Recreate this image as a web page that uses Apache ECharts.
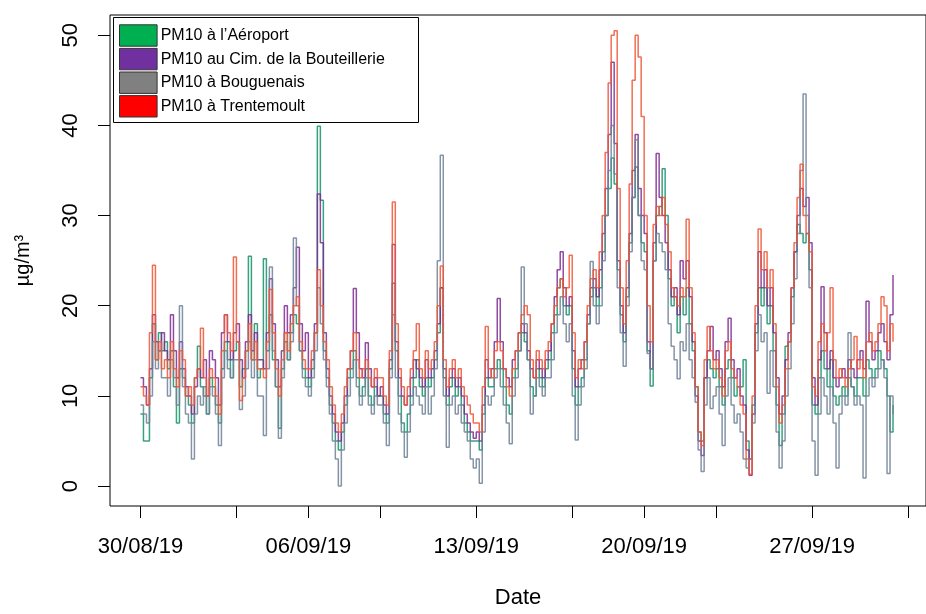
<!DOCTYPE html>
<html><head><meta charset="utf-8">
<script src="https://cdn.jsdelivr.net/npm/echarts@6/dist/echarts.min.js"></script>
<style>html,body{margin:0;padding:0;background:#fff}#c{width:926px;height:614px}</style>
</head><body><div id="c"></div>
<script>
// sampling: one value every 3 hours, starting 30/08/19 00:00
const stepHours = 3;
const xTickDays = [0, 4, 7, 10, 14, 18, 21, 24, 28, 32];
const xLabelDays = [0, 7, 14, 21, 28];
const xTickLabels = ['30/08/19', '06/09/19', '13/09/19', '20/09/19', '27/09/19'];
const yTicks = [0, 10, 20, 30, 40, 50];
const seriesNames = ['PM10 à l’Aéroport', 'PM10 au Cim. de la Bouteillerie', 'PM10 à Bouguenais', 'PM10 à Trentemoult'];
const legendColors = ['#00B050', '#7030A0', '#808080', '#FF0000'];
const lineColors = ['#15906a', '#7e2a90', '#6f8196', '#ee5535'];

const aeroport = [
 8,5,5,12,18,14,17,15, 16,13,15,11,7,13,12,10, 9,7,12,15.5,11,10,8,12, 11,9,7,13,16,14,12,15,
 16,11,13,15,25.5,14,18,12, 13,25.2,15,19,14,11,6.4,13, 16,14,17,19,18,15,13,12, 11,13,17,39.9,31.7,15,12,9,
 7,5,4,6,9,12,13,15, 12,10,11,13,10,9,11,10, 10,8,7,13,22.5,15,10,7, 6,8,10,12,14,11,10,12,
 11,12,14,17,22,12,9,11, 12,10,11,9,7,6,5,5, 5,4,8,12,11,11,13,14, 13,11,9,8,12,13,15,17,
 16,14,11,10,13,12,11,13, 14,17,19,22,23,20,19,20, 13,9,11,12,14,18,21,22, 20,22,26,30,33,36.4,33.5,24,
 19,16,21,27,32,35.4,30,27, 26,15,11.1,25,30,31,35.2,30, 23,20,21,17,21,19,22,18, 15,11,6,5,12,14,13,12,
 13,11,9,13,14,12,10,11, 11,14,5,3,9,17,22,20, 22,18,20,15,9,4.5,8,15.5, 16,21,26,29,28,27,28,24,
 9,8,12,15,13,11,14,10, 9,10,11,10,12,11,10,12, 12,10,14,13,12,13,15,14, 13,10,6,9
];
const bouteillerie = [
 12,11,9,13,19,16,15,17, 15,14,19,15,12,16,13,11, 10,8,11,13,12,14,10,15, 14,12,9,17,19,16,14,17,
 18,14,12,16,19,15,17,14, 14,13,17,23,18,14,11,15, 20,17,19,22,26.5,18,15,17, 12,14,18,32.4,27,17,13,10,
 8,6,5,7,10,13,15,21.9, 17,13,12,15.9,13,11,12,10, 11,9,8,14,26.8,16,12,10, 9,10,12,14,13,12,11,14,
 12,13,15,18,22,13,10,12, 13,11,12,10,8,7,6,5.3, 6,5,9,14,12,13,16,20.8, 16,13,12,11,14,15,17,18,
 17,15,13,12,14,13,12,14, 15,18,21,24,26,22,20,21, 15,11,13,14,16,19,22,23, 21,24,28,33,39,47,38,25,
 20,17,22,28,35,39,33,30, 28,16,13,27,36.9,32,30,27, 24,21,22,19,25,23,25,21, 16,10,5,3.4,12,15,17.7,14,
 15,13,11,16,18.6,14,12,13, 10,9,4,1.2,8,18,26,22, 24,20,22,17,12,8,10,14, 17,22,26,30,33,31,32,27,
 12,9,14,22.1,17,13,15,12, 11,12,13,12,14,13,12,14, 15,13,20.5,16,14,15,17,18, 16,14,19,23.4
];
const bouguenais = [
 9,8,7,10,16,13,15,12, 12,10,14,12,9,20,11,8, 7,3,8,10,9,11,8,11, 10,8,4.5,12,15,13,12,14,
 14,8.5,10,13,16,12,14,10, 10,5.6,13,24.3,15,11,5.3,12, 17,14,16,27.5,20,15,12,11, 10,12,15,22,18,14,11,8,
 5,3,0,4,7,10,12,14, 11,9,10,12,9,8,10,9, 9,7,4.5,12,19,12,8,6, 3.2,6,9,11,10,9,8,11,
 8,10,13,25,36.7,10,4.3,9, 10,8,9,7,6,5,3,2, 3,0.3,6,10,9,10,12,13, 11,9,7,4.7,10,12,15,24.3,
 18,14,8,10,12,11,10,12, 12,14,17,19,21,18,16,18, 10,5.1,9,11,13,18,24.9,20, 18,20,25,30,35,40,34.6,22,
 17,13.3,20,26,32,38.4,30,25, 24,14.7,13,25,28,27,26,24, 18,15.5,14,11.9,16,15,18,14, 12,9.3,4,1.6,9,12,8.6,10,
 11,8,4.5,10,12,9,7,8, 6,3,2,3,7,15,19,16, 17,10.3,15,11,6,2,5,10, 13,18,23,28,35,43.5,30,22,
 5,1.2,8,12,10,8,11,7, 2,8,10,9,17,11,9,10, 9,0.9,10,12,11,12,13,14, 12,1.4,10,8
];
const trentemoult = [
 11,10,9,17,24.5,14,16,13, 14,12,16,13,11,15,14,10, 11,9,12,13,17.5,12,10,13, 12,10,8,15,19,17,15,25.4,
 16,9.5,12,15,18,14,16,13, 13,12,16,21.8,17,13,10,14, 17,15,18,20,21,16,14,13, 13,15,17,24,20,16,14,11,
 9,7,6,8,11,13,15,17, 14,12,13,14,12,11,13,12, 12,10,9,15,31.5,18,13,11, 9,11,13,15,18,13,12,15,
 13,14,16,20,24.4,14,11,13, 14,12,13,11,10,9,8,7, 7,6,11,17.7,13,12,15,16, 15,13,11,10,13,15,17,19,
 20,19,14,12,15,14,13,15, 16,18,20,22,23,21,22,25.6, 17,12,14,13,16,20,23,24, 22,26,30,37,44.7,50,50.5,33,
 22,18,25,33.5,45,50,47.6,41, 30,20,16,29,31,30,32,29, 26,22,21,20,22,21,29.6,22, 17,11,6,4.5,14,17.7,15,13,
 14,12,10,15,16,13,12,11, 9,8,3,1.3,10,20,28.5,24, 26,22,24,18,11,7,9,13, 16,22,27,32,35.7,30,28,26,
 11,10,16,18,15,17,22,14, 12,13,12,11,13,14,16.6,13, 14,12,16,17,15,16,18,21, 20,15,18,16
];
const allValues = [aeroport, bouteillerie, bouguenais, trentemoult];

const FONT = 'Liberation Sans, Arial, sans-serif';
const chart = echarts.init(document.getElementById('c'), null, {renderer: 'canvas'});

const series = allValues.map((vals, k) => ({
  name: seriesNames[k],
  type: 'line',
  step: 'end',
  symbol: 'none',
  showSymbol: false,
  silent: true,
  animation: false,
  z: 2 + k,
  lineStyle: {color: lineColors[k], width: 1.5, opacity: 0.85},
  data: vals.map((v, i) => [i * stepHours / 24, v])
}));

// legend drawn as a box with coloured squares
const legendGraphics = [{
  type: 'rect', left: 113, top: 17, z: 100,
  shape: {width: 305, height: 105},
  style: {fill: '#fff', stroke: '#000', lineWidth: 1}
}];
seriesNames.forEach((n, k) => {
  legendGraphics.push({
    type: 'rect', left: 119, top: 24.3 + k * 23.6, z: 101,
    shape: {width: 37.6, height: 21.4},
    style: {fill: legendColors[k], stroke: '#333', lineWidth: 1}
  });
  legendGraphics.push({
    type: 'text', x: 160.7, y: 35.5 + k * 23.6, z: 101,
    style: {text: n, fill: '#000', font: '16px ' + FONT, textVerticalAlign: 'middle', verticalAlign: 'middle'}
  });
});

chart.setOption({
  animation: false,
  backgroundColor: '#fff',
  grid: {left: 110, top: 15, width: 831, height: 496.7, show: true, borderColor: '#000', borderWidth: 1, backgroundColor: 'transparent'},
  xAxis: {
    type: 'value', min: -1.27, max: 32.75,
    axisLine: {show: false, onZero: false},
    splitLine: {show: false},
    axisTick: {show: true, customValues: xTickDays, length: 12, lineStyle: {color: '#000', width: 1}},
    axisLabel: {customValues: xLabelDays, formatter: v => xTickLabels[xLabelDays.indexOf(v)] || '', fontSize: 22, color: '#000', margin: 30, fontFamily: FONT},
    name: 'Date', nameLocation: 'middle', nameGap: 81,
    nameTextStyle: {fontSize: 22, color: '#000', fontFamily: FONT}
  },
  yAxis: {
    type: 'value', min: -2.215, max: 52.25,
    axisLine: {show: false, onZero: false},
    splitLine: {show: false},
    axisTick: {show: true, customValues: yTicks, length: 12, lineStyle: {color: '#000', width: 1}},
    axisLabel: {customValues: yTicks, rotate: 90, fontSize: 22, color: '#000', margin: 28, fontFamily: FONT},
    name: 'µg/m³', nameLocation: 'middle', nameRotate: 90, nameGap: 77,
    nameTextStyle: {fontSize: 20, color: '#000', fontFamily: FONT}
  },
  graphic: legendGraphics,
  series: series
});
</script>
</body></html>
